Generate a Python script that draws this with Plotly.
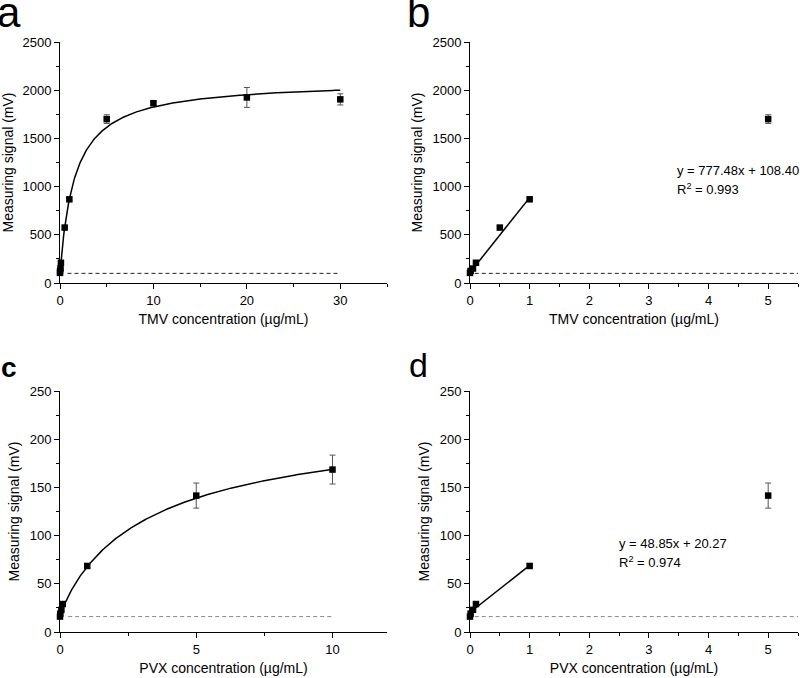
import numpy as np
import plotly.graph_objects as go

# ---------------- data ----------------
tmv_conc = [0, 0.01, 0.05, 0.1, 0.5, 1, 5, 10, 20, 30]
tmv_signal = [105, 125, 150, 210, 575, 868, 1700, 1865, 1925, 1905]
tmv_err = [5, 5, 8, 10, 15, 15, 45, 20, 103, 58]

pvx_conc = [0, 0.01, 0.05, 0.1, 1, 5, 10]
pvx_signal = [16, 19, 23, 29, 68.5, 141.5, 168.5]
pvx_err = [1, 1, 1, 1.5, 2, 13, 15]

# saturation fit parameters
tmv_fit = dict(base=100, amp=2002, k=1.6, n=1.0)
pvx_fit = dict(base=16, amp=212, k=3.5, n=0.9)

# linear fits (printed on the chart)
tmv_lin = dict(slope=777.48, intercept=108.40, r2="0.993", x0=0.01, x1=1)
pvx_lin = dict(slope=48.85, intercept=20.27, r2="0.974", x0=0.0, x1=1)

tmv_blank = 100
pvx_blank = 16

FONT = "Liberation Sans, Arial, sans-serif"


def hill(x, p):
    x = np.asarray(x, dtype=float)
    return p["base"] + p["amp"] * x ** p["n"] / (p["k"] ** p["n"] + x ** p["n"])


fig = go.Figure()

# domains in paper coords
W, H = 800, 678
dom = {
    "a": ([60 / W, 387 / W], [1 - 283 / H, 1 - 42 / H]),
    "b": ([470 / W, 798 / W], [1 - 283 / H, 1 - 42 / H]),
    "c": ([60 / W, 387 / W], [1 - 632 / H, 1 - 391 / H]),
    "d": ([470 / W, 798 / W], [1 - 632 / H, 1 - 391 / H]),
}


def pts(x, y, e, xa, ya, xmax=None):
    if xmax is not None:
        sel = [i for i, v in enumerate(x) if v <= xmax]
        x = [x[i] for i in sel]
        y = [y[i] for i in sel]
        e = [e[i] for i in sel]
    return go.Scatter(
        x=x, y=y, mode="markers", xaxis=xa, yaxis=ya, cliponaxis=False,
        marker=dict(symbol="square", size=6.5, color="black"),
        error_y=dict(type="data", array=e, visible=True, color="#555555",
                     thickness=1, width=3),
        showlegend=False, hoverinfo="x+y",
    )


def hline(level, x0, x1, xa, ya, color):
    return go.Scatter(x=[x0, x1], y=[level, level], mode="lines", xaxis=xa, yaxis=ya,
                      line=dict(color=color, width=1, dash="4px,3px"), showlegend=False,
                      hoverinfo="skip")


# panel a
xa_curve = np.linspace(0, 30, 400)
fig.add_trace(hline(tmv_blank, 0.8, 30, "x", "y", "#222222"))
fig.add_trace(go.Scatter(x=xa_curve, y=hill(xa_curve, tmv_fit), mode="lines", xaxis="x", yaxis="y",
                         line=dict(color="black", width=1.5), showlegend=False, hoverinfo="skip"))
fig.add_trace(pts(tmv_conc, tmv_signal, tmv_err, "x", "y"))

# panel b
fig.add_trace(hline(tmv_blank, 0.08, 5.5, "x2", "y2", "#222222"))
fig.add_trace(go.Scatter(x=[tmv_lin["x0"], tmv_lin["x1"]],
                         y=[tmv_lin["slope"] * tmv_lin["x0"] + tmv_lin["intercept"],
                            tmv_lin["slope"] * tmv_lin["x1"] + tmv_lin["intercept"]],
                         mode="lines", xaxis="x2", yaxis="y2", line=dict(color="black", width=1.5),
                         showlegend=False, hoverinfo="skip"))
fig.add_trace(pts(tmv_conc, tmv_signal, tmv_err, "x2", "y2", xmax=5))

# panel c
xc_curve = np.linspace(0, 10, 400)
fig.add_trace(hline(pvx_blank, 0.3, 10, "x3", "y3", "#888888"))
fig.add_trace(go.Scatter(x=xc_curve, y=hill(xc_curve, pvx_fit), mode="lines", xaxis="x3", yaxis="y3",
                         line=dict(color="black", width=1.5), showlegend=False, hoverinfo="skip"))
fig.add_trace(pts(pvx_conc, pvx_signal, pvx_err, "x3", "y3"))

# panel d
fig.add_trace(hline(pvx_blank, 0.08, 5.5, "x4", "y4", "#888888"))
fig.add_trace(go.Scatter(x=[pvx_lin["x0"], pvx_lin["x1"]],
                         y=[pvx_lin["slope"] * pvx_lin["x0"] + pvx_lin["intercept"],
                            pvx_lin["slope"] * pvx_lin["x1"] + pvx_lin["intercept"]],
                         mode="lines", xaxis="x4", yaxis="y4", line=dict(color="black", width=1.5),
                         showlegend=False, hoverinfo="skip"))
fig.add_trace(pts(pvx_conc, pvx_signal, pvx_err, "x4", "y4", xmax=5))


def xaxis(domain, anchor, rng, dtick, minor, title):
    return dict(domain=domain, anchor=anchor, range=rng, dtick=dtick, tick0=0, automargin=False,
                showline=True, linecolor="black", linewidth=1, mirror=False,
                ticks="outside", ticklen=5, tickcolor="black", showgrid=False, zeroline=False,
                minor=dict(dtick=minor, ticks="outside", ticklen=3, tickcolor="black", showgrid=False),
                tickfont=dict(size=13, color="black", family=FONT),
                title=dict(text=title, font=dict(size=14, color="black", family=FONT), standoff=7))


def yaxis(domain, anchor, rng, dtick, minor):
    return dict(domain=domain, anchor=anchor, range=rng, dtick=dtick, tick0=0, automargin=False,
                showline=True, linecolor="black", linewidth=1, mirror=False,
                ticks="outside", ticklen=5, tickcolor="black", showgrid=False, zeroline=False,
                minor=dict(dtick=minor, ticks="outside", ticklen=3, tickcolor="black", showgrid=False),
                tickfont=dict(size=13, color="black", family=FONT),
                title=dict(text="Measuring signal (mV)", font=dict(size=14, color="black", family=FONT),
                           standoff=6))


fig.update_layout(
    width=W, height=H, margin=dict(l=0, r=0, t=0, b=0, autoexpand=False),
    plot_bgcolor="white", paper_bgcolor="white",
    font=dict(family=FONT, color="black"),
    xaxis=xaxis(dom["a"][0], "y", [0, 35], 10, 5, "TMV concentration (µg/mL)"),
    yaxis=yaxis(dom["a"][1], "x", [0, 2500], 500, 250),
    xaxis2=xaxis(dom["b"][0], "y2", [0, 5.5], 1, 0.5, "TMV concentration (µg/mL)"),
    yaxis2=yaxis(dom["b"][1], "x2", [0, 2500], 500, 250),
    xaxis3=xaxis(dom["c"][0], "y3", [0, 12], 5, 2.5, "PVX concentration (µg/mL)"),
    yaxis3=yaxis(dom["c"][1], "x3", [0, 250], 50, 25),
    xaxis4=xaxis(dom["d"][0], "y4", [0, 5.5], 1, 0.5, "PVX concentration (µg/mL)"),
    yaxis4=yaxis(dom["d"][1], "x4", [0, 250], 50, 25),
)

ann_font = dict(size=13, color="black", family=FONT)
fig.add_annotation(x=3.44, y=1165, xref="x2", yref="y2", xanchor="left", yanchor="middle",
                   showarrow=False, align="left", font=ann_font,
                   text=f"y = {tmv_lin['slope']:.2f}x + {tmv_lin['intercept']:.2f}")
fig.add_annotation(x=3.44, y=975, xref="x2", yref="y2", xanchor="left", yanchor="middle",
                   showarrow=False, align="left", font=ann_font,
                   text=f"R<sup>2</sup> = {tmv_lin['r2']}")
fig.add_annotation(x=2.47, y=92, xref="x4", yref="y4", xanchor="left", yanchor="middle",
                   showarrow=False, align="left", font=ann_font,
                   text=f"y = {pvx_lin['slope']:.2f}x + {pvx_lin['intercept']:.2f}")
fig.add_annotation(x=2.47, y=73, xref="x4", yref="y4", xanchor="left", yanchor="middle",
                   showarrow=False, align="left", font=ann_font,
                   text=f"R<sup>2</sup> = {pvx_lin['r2']}")

# panel letters
for letter, px, py, size, bold in [("a", -5, 13, 42, False), ("b", 405, 13, 42, False),
                                   ("c", -1, 367, 28, True), ("d", 407, 365, 34, False)]:
    fig.add_annotation(x=px / W, y=1 - py / H, xref="paper", yref="paper", xanchor="left",
                       yanchor="middle", showarrow=False,
                       text=f"<b>{letter}</b>" if bold else letter,
                       font=dict(size=size, color="black", family=FONT))

fig.write_html("out.html", config={"displayModeBar": False},
               post_script="document.body.style.margin='0px';")
